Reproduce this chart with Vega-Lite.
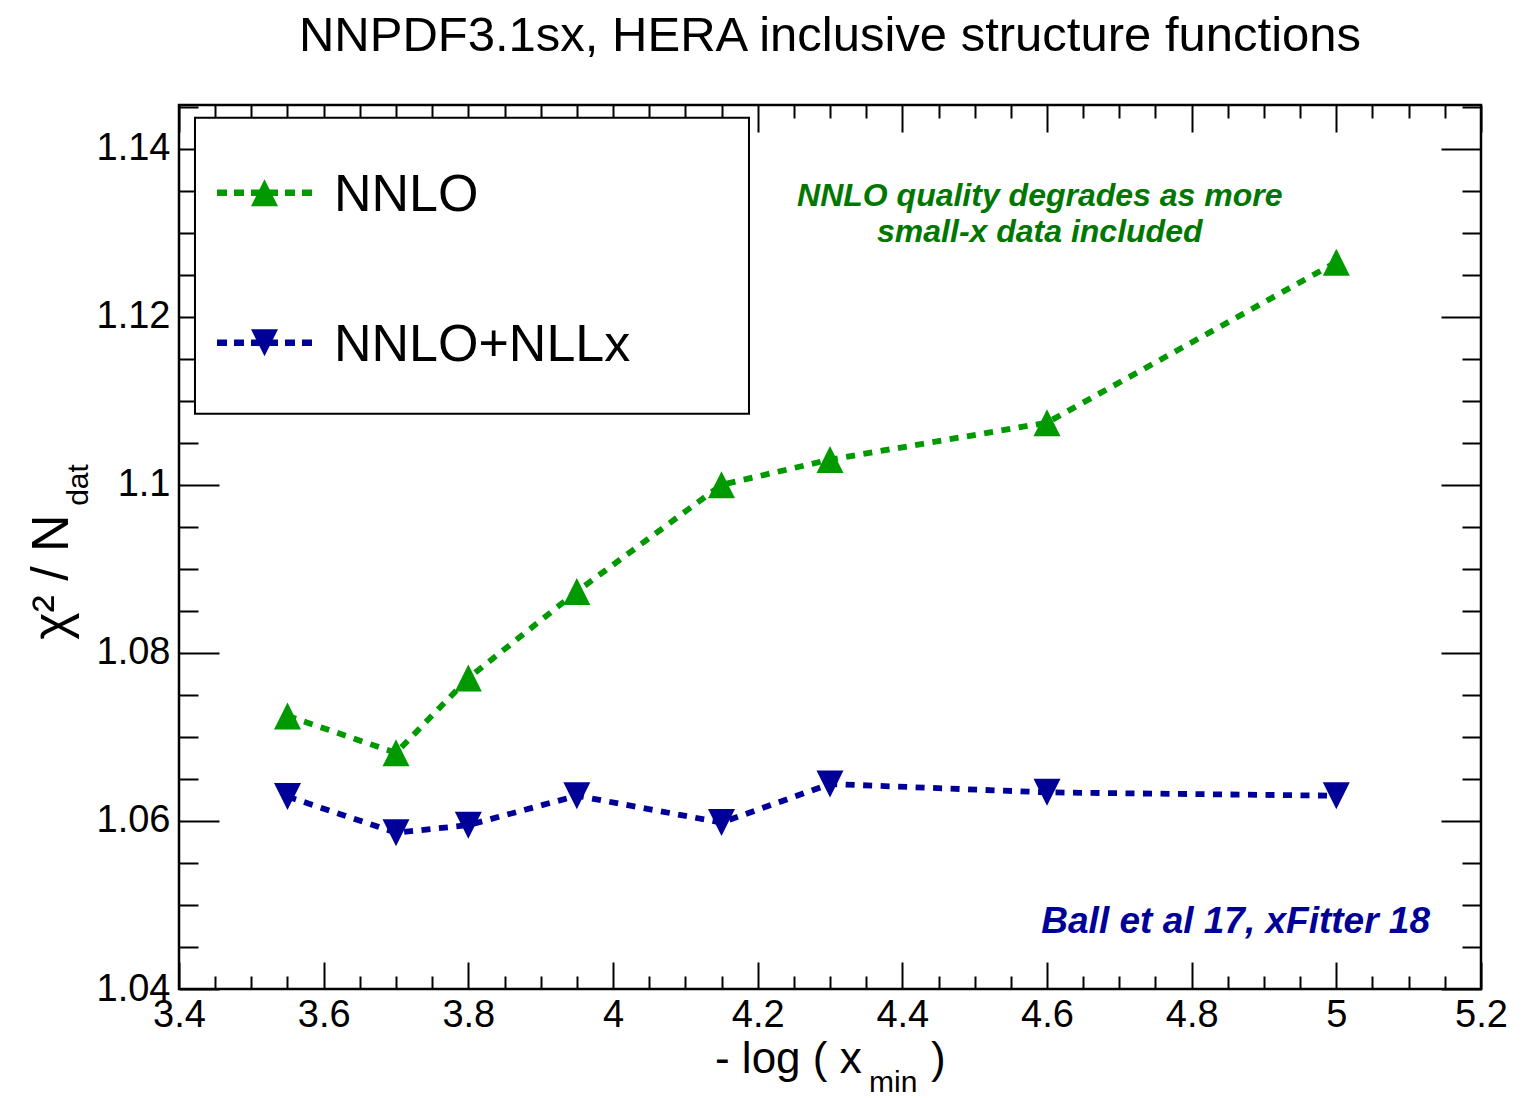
{
  "$schema": "https://vega.github.io/schema/vega-lite/v6.json",
  "autosize": "none",
  "width": 1302,
  "height": 884,
  "padding": {"left": 179, "top": 105, "right": 57, "bottom": 109},
  "background": "white",
  "config": {
    "font": "Liberation Sans",
    "view": {"stroke": "black", "strokeWidth": 2.5},
    "axis": {"domain": false, "grid": false, "tickColor": "black", "tickWidth": 2, "labelColor": "black", "labelFont": "Liberation Sans", "labelFontSize": 38, "title": null, "format": "~g"}
  },
  "title": {"text": "NNPDF3.1sx, HERA inclusive structure functions", "fontSize": 49, "font": "Liberation Sans", "fontWeight": "normal", "color": "black", "anchor": "middle", "baseline": "alphabetic", "offset": 4},
  "datasets": {
    "fits": [
      {"logxmin": 3.55, "chi2": 1.0725, "fit": "NNLO"},
      {"logxmin": 3.7, "chi2": 1.0681, "fit": "NNLO"},
      {"logxmin": 3.8, "chi2": 1.0770, "fit": "NNLO"},
      {"logxmin": 3.95, "chi2": 1.0873, "fit": "NNLO"},
      {"logxmin": 4.15, "chi2": 1.1000, "fit": "NNLO"},
      {"logxmin": 4.3, "chi2": 1.1030, "fit": "NNLO"},
      {"logxmin": 4.6, "chi2": 1.1074, "fit": "NNLO"},
      {"logxmin": 5.0, "chi2": 1.1265, "fit": "NNLO"},
      {"logxmin": 3.55, "chi2": 1.0629, "fit": "NNLO+NLLx"},
      {"logxmin": 3.7, "chi2": 1.0586, "fit": "NNLO+NLLx"},
      {"logxmin": 3.8, "chi2": 1.0595, "fit": "NNLO+NLLx"},
      {"logxmin": 3.95, "chi2": 1.0630, "fit": "NNLO+NLLx"},
      {"logxmin": 4.15, "chi2": 1.0598, "fit": "NNLO+NLLx"},
      {"logxmin": 4.3, "chi2": 1.0644, "fit": "NNLO+NLLx"},
      {"logxmin": 4.6, "chi2": 1.0634, "fit": "NNLO+NLLx"},
      {"logxmin": 5.0, "chi2": 1.0630, "fit": "NNLO+NLLx"}
    ],
    "one": [{}]
  },
  "layer": [
    {
      "description": "legend frame",
      "data": {"name": "one"},
      "mark": {"type": "rect", "fill": "white", "stroke": "black", "strokeWidth": 2},
      "encoding": {
        "x": {"datum": 3.4221, "type": "quantitative", "scale": {"domain": [3.4, 5.2], "nice": false, "zero": false},
              "axis": {"orient": "bottom", "values": [3.4, 3.6, 3.8, 4.0, 4.2, 4.4, 4.6, 4.8, 5.0, 5.2], "tickSize": -27, "labelPadding": 64, "labelBaseline": "alphabetic", "labelFlush": false, "labelOverlap": false}},
        "x2": {"datum": 4.188},
        "y": {"datum": 1.14369, "type": "quantitative", "scale": {"domain": [1.04, 1.1452], "nice": false, "zero": false},
              "axis": {"orient": "left", "values": [1.04, 1.06, 1.08, 1.1, 1.12, 1.14], "tickSize": -40, "labelPadding": 49, "labelFlush": false, "labelOverlap": false, "labelBaseline": "middle"}},
        "y2": {"datum": 1.10845}
      }
    },
    {
      "mark": {"type": "line", "strokeWidth": 5.8, "strokeDash": [9, 8.5], "strokeCap": "butt"},
      "data": {"name": "fits"},
      "encoding": {
        "x": {"field": "logxmin", "type": "quantitative",
              "axis": {"orient": "bottom", "values": [3.45, 3.5, 3.55, 3.65, 3.7, 3.75, 3.85, 3.9, 3.95, 4.05, 4.1, 4.15, 4.25, 4.3, 4.35, 4.45, 4.5, 4.55, 4.65, 4.7, 4.75, 4.85, 4.9, 4.95, 5.05, 5.1, 5.15], "tickSize": -13, "labels": false}},
        "y": {"field": "chi2", "type": "quantitative",
              "axis": {"orient": "left", "values": [1.045, 1.05, 1.055, 1.065, 1.07, 1.075, 1.085, 1.09, 1.095, 1.105, 1.11, 1.115, 1.125, 1.13, 1.135, 1.145], "tickSize": -19, "labels": false}},
        "color": {"field": "fit", "type": "nominal", "scale": {"domain": ["NNLO", "NNLO+NLLx"], "range": ["#009900", "#000099"]}, "legend": null},
        "detail": {"field": "fit"}
      }
    },
    {
      "mark": {"type": "point", "filled": true, "opacity": 1, "size": 729, "strokeWidth": 0},
      "data": {"name": "fits"},
      "encoding": {
        "x": {"field": "logxmin", "type": "quantitative",
              "axis": {"orient": "top", "values": [3.4, 3.6, 3.8, 4.0, 4.2, 4.4, 4.6, 4.8, 5.0, 5.2], "tickSize": -27, "labels": false}},
        "y": {"field": "chi2", "type": "quantitative",
              "axis": {"orient": "right", "values": [1.04, 1.06, 1.08, 1.1, 1.12, 1.14], "tickSize": -40, "labels": false}},
        "color": {"field": "fit", "type": "nominal", "legend": null},
        "shape": {"field": "fit", "type": "nominal", "scale": {"domain": ["NNLO", "NNLO+NLLx"], "range": ["M0,-1L1,1L-1,1Z", "M-1,-1L1,-1L0,1Z"]}, "legend": null}
      }
    },
    {
      "data": {"name": "one"},
      "mark": {"type": "point", "opacity": 0},
      "encoding": {
        "x": {"datum": 4.0, "type": "quantitative",
              "axis": {"orient": "top", "values": [3.45, 3.5, 3.55, 3.65, 3.7, 3.75, 3.85, 3.9, 3.95, 4.05, 4.1, 4.15, 4.25, 4.3, 4.35, 4.45, 4.5, 4.55, 4.65, 4.7, 4.75, 4.85, 4.9, 4.95, 5.05, 5.1, 5.15], "tickSize": -13, "labels": false}},
        "y": {"datum": 1.08, "type": "quantitative",
              "axis": {"orient": "right", "values": [1.045, 1.05, 1.055, 1.065, 1.07, 1.075, 1.085, 1.09, 1.095, 1.105, 1.11, 1.115, 1.125, 1.13, 1.135, 1.145], "tickSize": -19, "labels": false}}
      }
    },
    {
      "description": "legend entry NNLO: dashed line",
      "data": {"name": "one"},
      "mark": {"type": "rule", "color": "#009900", "strokeWidth": 6.5, "strokeDash": [10, 7], "strokeCap": "butt"},
      "encoding": {"x": {"datum": 3.45253, "type": "quantitative", "axis": null}, "x2": {"datum": 3.58387}, "y": {"datum": 1.13476, "type": "quantitative", "axis": null}}
    },
    {
      "description": "legend entry NNLO: marker",
      "data": {"name": "one"},
      "mark": {"type": "point", "filled": true, "opacity": 1, "size": 729, "strokeWidth": 0, "color": "#009900", "shape": "M0,-1L1,1L-1,1Z"},
      "encoding": {"x": {"datum": 3.5182, "type": "quantitative", "axis": null}, "y": {"datum": 1.13476, "type": "quantitative", "axis": null}}
    },
    {
      "description": "legend entry NNLO: label",
      "data": {"name": "one"},
      "mark": {"type": "text", "font": "Liberation Sans", "fontSize": 52, "color": "black", "align": "left", "baseline": "alphabetic", "text": "NNLO"},
      "encoding": {"x": {"datum": 3.61429, "type": "quantitative", "axis": null}, "y": {"datum": 1.13256, "type": "quantitative", "axis": null}}
    },
    {
      "description": "legend entry NNLO+NLLx: dashed line",
      "data": {"name": "one"},
      "mark": {"type": "rule", "color": "#000099", "strokeWidth": 6.5, "strokeDash": [10, 7], "strokeCap": "butt"},
      "encoding": {"x": {"datum": 3.45253, "type": "quantitative", "axis": null}, "x2": {"datum": 3.58387}, "y": {"datum": 1.1169, "type": "quantitative", "axis": null}}
    },
    {
      "description": "legend entry NNLO+NLLx: marker",
      "data": {"name": "one"},
      "mark": {"type": "point", "filled": true, "opacity": 1, "size": 729, "strokeWidth": 0, "color": "#000099", "shape": "M-1,-1L1,-1L0,1Z"},
      "encoding": {"x": {"datum": 3.5182, "type": "quantitative", "axis": null}, "y": {"datum": 1.1169, "type": "quantitative", "axis": null}}
    },
    {
      "description": "legend entry NNLO+NLLx: label",
      "data": {"name": "one"},
      "mark": {"type": "text", "font": "Liberation Sans", "fontSize": 52, "color": "black", "align": "left", "baseline": "alphabetic", "text": "NNLO+NLLx"},
      "encoding": {"x": {"datum": 3.61429, "type": "quantitative", "axis": null}, "y": {"datum": 1.1147, "type": "quantitative", "axis": null}}
    },
    {
      "data": {"name": "one"},
      "mark": {"type": "text", "font": "Liberation Sans", "fontSize": 32, "fontWeight": "bold", "fontStyle": "italic", "color": "#007700", "align": "center", "baseline": "alphabetic", "lineHeight": 36, "text": ["NNLO quality degrades as more", "small-x data included"]},
      "encoding": {"x": {"datum": 4.59, "type": "quantitative", "axis": null}, "y": {"datum": 1.1332, "type": "quantitative", "axis": null}}
    },
    {
      "data": {"name": "one"},
      "mark": {"type": "text", "font": "Liberation Sans", "fontSize": 37, "fontWeight": "bold", "fontStyle": "italic", "color": "#000099", "align": "right", "baseline": "alphabetic", "text": "Ball et al 17, xFitter 18"},
      "encoding": {"x": {"datum": 5.1295, "type": "quantitative", "axis": null}, "y": {"datum": 1.04667, "type": "quantitative", "axis": null}}
    },
    {
      "data": {"name": "one"},
      "mark": {"type": "text", "font": "Liberation Sans", "fontSize": 44, "color": "black", "align": "left", "baseline": "alphabetic", "text": "- log ( x"},
      "encoding": {"x": {"datum": 4.141, "type": "quantitative", "axis": null}, "y": {"datum": 1.03, "type": "quantitative", "axis": null}}
    },
    {
      "data": {"name": "one"},
      "mark": {"type": "text", "font": "Liberation Sans", "fontSize": 30, "color": "black", "align": "left", "baseline": "alphabetic", "text": "min"},
      "encoding": {"x": {"datum": 4.3539, "type": "quantitative", "axis": null}, "y": {"datum": 1.0277, "type": "quantitative", "axis": null}}
    },
    {
      "data": {"name": "one"},
      "mark": {"type": "text", "font": "Liberation Sans", "fontSize": 44, "color": "black", "align": "left", "baseline": "alphabetic", "text": ")"},
      "encoding": {"x": {"datum": 4.4396, "type": "quantitative", "axis": null}, "y": {"datum": 1.03, "type": "quantitative", "axis": null}}
    },
    {
      "data": {"name": "one"},
      "mark": {"type": "text", "font": "Liberation Sans", "fontSize": 52, "color": "black", "align": "left", "baseline": "alphabetic", "angle": 270, "text": "χ² / N"},
      "encoding": {"x": {"datum": 3.2465, "type": "quantitative", "axis": null}, "y": {"datum": 1.08155, "type": "quantitative", "axis": null}}
    },
    {
      "data": {"name": "one"},
      "mark": {"type": "text", "font": "Liberation Sans", "fontSize": 30, "color": "black", "align": "left", "baseline": "alphabetic", "angle": 270, "text": "dat"},
      "encoding": {"x": {"datum": 3.2742, "type": "quantitative", "axis": null}, "y": {"datum": 1.0975, "type": "quantitative", "axis": null}}
    }
  ]
}
